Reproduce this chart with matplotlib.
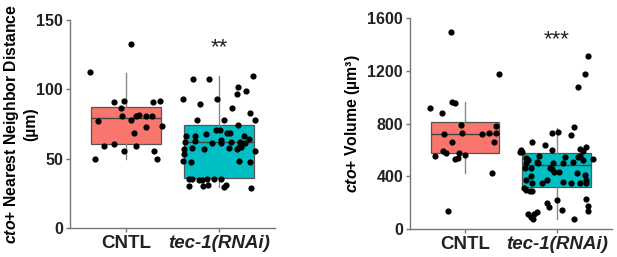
import matplotlib
matplotlib.use("Agg")
from matplotlib import pyplot as plt

plt.rcParams['font.family'] = ['Liberation Sans', 'DejaVu Sans']
plt.rcParams['font.weight'] = 'bold'
plt.rcParams['mathtext.fontset'] = 'custom'
plt.rcParams['mathtext.it'] = 'Liberation Sans:italic:bold'
plt.rcParams['mathtext.rm'] = 'Liberation Sans:bold'

groups = ["CNTL", "tec-1(RNAi)"]
colors = ["#F8766D", "#00BFC4"]

# nearest neighbor distance (um), jitter offsets
nnd_cntl = [132.9, 112.3, 91, 91.3, 91, 91.3, 86.3, 81, 77.4, 77.6, 81, 81.2,
            81, 81, 73, 73.3, 68.5, 59.4, 60.6, 59.4, 55.3, 55.3, 50, 50]
nnd_cntl_jit = [0.06, -0.39, -0.13, -0.02, 0.29, 0.37, -0.05, -0.04, -0.30, 0.06, 0.11, 0.14,
                0.22, 0.28, 0.22, 0.39, 0.09, -0.24, -0.13, 0.11, -0.02, 0.30, -0.33, 0.33]
nnd_tec = [107.2, 107.2, 109.8, 93.2, 93.2, 89.2, 101.7, 99, 96.4, 86.3, 83.1, 77.9,
           77.9, 77.9, 74.3, 71, 71,
           66.3, 66.3, 67.8, 68.3, 68.3,
           62.2, 62.9, 61.1, 63.4, 61.1, 62.2, 62.2, 61.1, 64,
           57, 57.4, 56.7, 57.4, 56.7, 58.6, 58.6, 55.7,
           48.5, 47.8, 48.5, 47.4, 53,
           35.3, 35.3, 34.6, 34.6, 35.1, 35.1, 35.1,
           30.3, 30.3, 31, 29.3, 31, 29.1, 66.3]
nnd_tec_jit = [-0.28, -0.11, 0.36, -0.39, -0.02, -0.20, 0.20, 0.29, 0.19, 0.14, 0.33, -0.24,
               0.05, 0.39, 0.20, -0.03, 0.01,
               -0.35, -0.26, -0.14, 0.09, 0.12,
               -0.36, -0.26, -0.07, 0.02, 0.02, 0.13, 0.23, 0.28, 0.32,
               -0.38, -0.29, -0.16, 0.11, 0.19, 0.22, 0.24, 0.39,
               -0.39, -0.30, 0.21, 0.33, -0.38,
               -0.32, -0.29, -0.22, -0.18, -0.13, -0.05, 0.02,
               -0.32, -0.17, -0.12, 0.05, 0.08, 0.34, 0.27]

# volume (um^3)
vol_cntl = [1498, 1177, 916, 883, 967, 959, 787, 782, 721, 731, 719, 726,
            731, 661, 663, 595, 579, 557, 579, 562, 529, 541, 428, 139]
vol_cntl_jit = [-0.15, 0.37, -0.38, -0.25, -0.14, -0.11, -0.04, 0.34, -0.23, -0.03, 0.19, 0.26,
                0.34, -0.14, 0.32, -0.24, -0.21, -0.33, -0.07, 0.0, -0.11, -0.08, 0.29, -0.19]
vol_tec = [1314, 1177, 1081, 777, 739, 727, 714, 658, 636, 600,
           600, 587, 582, 605, 595, 620, 557, 544, 557, 544, 529,
           537, 524, 503, 506, 499, 499, 511, 524, 499,
           466, 453, 461, 466, 435, 435, 428, 410, 402,
           372, 372, 352, 359, 347, 352, 372, 347, 352,
           309, 296, 289, 289, 220, 228, 200, 165, 144, 175, 139,
           131, 114, 112, 93, 74, 76]
vol_tec_jit = [0.34, 0.31, 0.23, 0.19, 0.01, -0.05, 0.16, -0.27, -0.13, -0.05,
               -0.39, -0.38, -0.40, 0.25, 0.29, 0.32, -0.19, 0.09, 0.25, 0.23, 0.40,
               -0.34, -0.31, -0.33, -0.22, -0.20, 0.07, 0.18, 0.29, -0.04,
               -0.07, -0.05, -0.35, -0.28, -0.03, 0.03, 0.22, 0.31, -0.28,
               -0.34, -0.11, -0.16, 0.07, 0.16, 0.25, 0.32, 0.32, -0.27,
               -0.36, -0.33, -0.29, -0.27, 0.0, 0.32, -0.11, -0.08, 0.06, 0.34, 0.34,
               -0.22, -0.25, -0.31, -0.28, -0.26, 0.19]

# box stats: q1, median, q3, lower whisker, upper whisker
nnd_box = [(60.6, 79.3, 87.5, 50, 112), (35.8, 61.8, 74.3, 29.3, 109.8)]
vol_box = [(575, 719, 810, 428, 967), (322, 484, 577, 76, 765)]

signif = ["", "**"]
signif_vol = ["", "***"]


def panel(ax, box, ys, jits, ymax, yticks, ylabel, stars, star_y, ylabel_x):
    stats = []
    for name, (q1, med, q3, lo, hi) in zip(groups, box):
        stats.append({'label': name, 'q1': q1, 'med': med, 'q3': q3,
                      'whislo': lo, 'whishi': hi, 'fliers': []})
    bp = ax.bxp(stats, positions=[1, 2], widths=0.75, patch_artist=True,
                showcaps=False, showfliers=False,
                boxprops=dict(edgecolor='#555555', linewidth=0.9),
                medianprops=dict(color='#444444', linewidth=1.0),
                whiskerprops=dict(color='#888888', linewidth=1.0))
    for patch, c in zip(bp['boxes'], colors):
        patch.set_facecolor(c)
    for i, (y, j) in enumerate(zip(ys, jits)):
        ax.scatter([i + 1 + d for d in j], y, s=20, color='black', zorder=5,
                   linewidths=0)
    for i, st in enumerate(stars):
        if st:
            ax.text(i + 1, star_y, st, ha='center', va='center', fontsize=16,
                    fontweight='normal', color='#222222')
    ax.set_xlim(0.4, 2.6)
    ax.set_ylim(0, ymax)
    ax.set_yticks(yticks)
    ax.set_xticks([1, 2])
    ax.set_xticklabels(groups, fontsize=13.5, fontweight='bold')
    ax.get_xticklabels()[1].set_fontstyle('italic')
    for lab in ax.get_yticklabels():
        lab.set_fontsize(11.5)
        lab.set_fontweight('bold')
    ax.set_ylabel(ylabel, fontsize=11.3, fontweight='bold', linespacing=1.15)
    ax.yaxis.set_label_coords(ylabel_x, 0.5)
    for s in ['top', 'right']:
        ax.spines[s].set_visible(False)
    for s in ['left', 'bottom']:
        ax.spines[s].set_color('#777777')
        ax.spines[s].set_linewidth(1.0)
    ax.tick_params(axis='both', colors='#777777', length=3, width=1.0,
                   labelcolor='#222222', pad=2)


fig = plt.figure(figsize=(6.17, 2.57), dpi=100)
ax1 = fig.add_axes([0.1135, 0.113, 0.332, 0.809])
ax2 = fig.add_axes([0.6645, 0.109, 0.327, 0.82])

panel(ax1, nnd_box, [nnd_cntl, nnd_tec], [nnd_cntl_jit, nnd_tec_jit], 150,
      [0, 50, 100, 150], '$\\mathit{cto}$+ Nearest Neighbor Distance\n(µm)',
      signif, 130, -0.156)
panel(ax2, vol_box, [vol_cntl, vol_tec], [vol_cntl_jit, vol_tec_jit], 1600,
      [0, 400, 800, 1200, 1600], '$\\mathit{cto}$+ Volume (µm³)',
      signif_vol, 1435, -0.238)

fig.savefig('out.png', dpi=100)
